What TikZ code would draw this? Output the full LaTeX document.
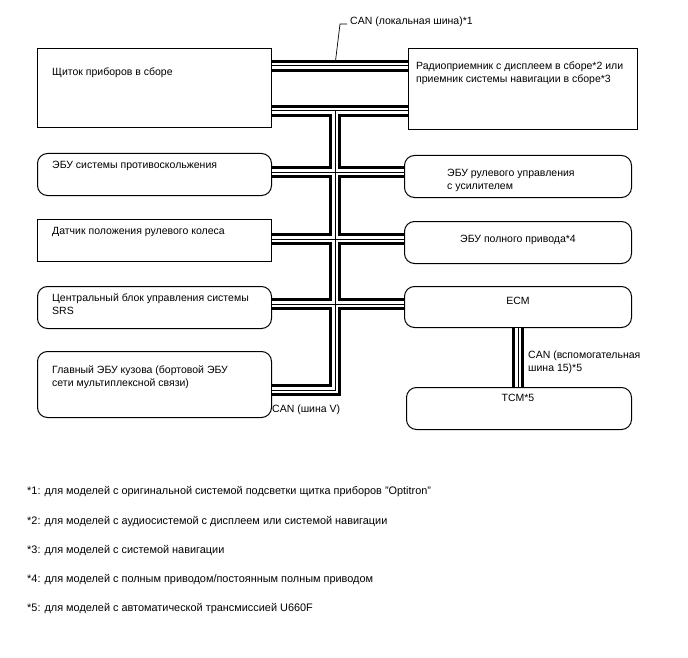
\documentclass[tikz,border=0pt]{standalone}
\usepackage{fontspec}
\setmainfont{Liberation Sans}
\begin{document}
\begin{tikzpicture}[x=1pt,y=-1pt,
  box/.style={draw,line width=1pt},
  rbox/.style={draw,line width=1pt,rounded corners=10pt},
  lbl/.style={font=\fontsize{10.5}{13}\selectfont,inner sep=0pt,align=left},
  note/.style={font=\fontsize{10.9}{12}\selectfont,inner sep=0pt,anchor=west},
  busouter/.style={line width=12pt,black,line cap=butt,line join=miter},
  businner/.style={line width=6.5pt,white,line cap=butt,line join=miter},
  buscore/.style={line width=1pt,black,line cap=butt,line join=miter}]
\useasboundingbox (0,0) rectangle (688,658);
% boxes
\node[box,minimum width=234pt,minimum height=79pt,anchor=north west] (shch) at (37,48) {};
\node[lbl,anchor=west] at (52,73) {Щиток приборов в сборе};
\node[box,minimum width=229pt,minimum height=81pt,anchor=north west] (radio) at (408,48) {};
\node[lbl,anchor=north west] at (416,62) {Радиоприемник с дисплеем в сборе*2 или\\приемник системы навигации в сборе*3};
\node[rbox,minimum width=234pt,minimum height=42pt,anchor=north west] (abs) at (37,153) {};
\node[lbl,anchor=west] at (52,166) {ЭБУ системы противоскольжения};
\node[rbox,minimum width=227pt,minimum height=42pt,anchor=north west] (eps) at (404,155) {};
\node[lbl,anchor=north west] at (447,169) {ЭБУ рулевого управления\\с усилителем};
\node[box,minimum width=234pt,minimum height=42pt,anchor=north west] (sens) at (37,219) {};
\node[lbl,anchor=west] at (52,232) {Датчик положения рулевого колеса};
\node[rbox,minimum width=227pt,minimum height=42pt,anchor=north west] (awd) at (404,221) {};
\node[lbl] at (518,240) {ЭБУ полного привода*4};
\node[rbox,minimum width=234pt,minimum height=42pt,anchor=north west] (srs) at (37,286) {};
\node[lbl,anchor=north west] at (52,294) {Центральный блок управления системы\\SRS};
\node[rbox,minimum width=227pt,minimum height=41pt,anchor=north west] (ecm) at (404,286) {};
\node[lbl] at (518,301) {ECM};
\node[rbox,minimum width=234pt,minimum height=66pt,anchor=north west] (body) at (37,351) {};
\node[lbl,anchor=north west] at (52,366) {Главный ЭБУ кузова (бортовой ЭБУ\\сети мультиплексной связи)};
\node[rbox,minimum width=225pt,minimum height=42pt,anchor=north west] (tcm) at (406,387) {};
\node[lbl] at (518,398) {TCM*5};
% junction coordinates
\coordinate (t1) at (335,66);
\coordinate (top) at (335,111);
\coordinate (j1) at (335,172);
\coordinate (j2) at (335,239);
\coordinate (j3) at (335,304);
\coordinate (bot) at (335,390);
\coordinate (et) at (518,327);
\newcommand\mybuspaths[1]{%
  \draw[#1] (shch.east |- t1) -- (radio.west |- t1);
  \draw[#1] (shch.east |- top) -- (radio.west |- top);
  \draw[#1] (top) -- (bot) -- (body.east |- bot);
  \draw[#1] (abs.east |- j1) -- (eps.west |- j1);
  \draw[#1] (sens.east |- j2) -- (awd.west |- j2);
  \draw[#1] (srs.east |- j3) -- (ecm.west |- j3);
  \draw[#1] (ecm.south -| et) -- (tcm.north -| et);
}
\mybuspaths{busouter}
\mybuspaths{businner}
\mybuspaths{buscore}
% labels
\node[lbl,anchor=west] (canloc) at (350,22) {CAN (локальная шина)*1};
\coordinate (lt) at (340,24);
\coordinate (lb) at (335.5,61);
\draw[line width=0.7pt] (canloc.west) ++(-3,2) -- (lt) -- (lb);
\node[lbl,anchor=west] (canv) at (272,410) {CAN (шина V)};
\node[lbl,anchor=north west] (cansub) at (528,351) {CAN (вспомогательная\\шина 15)*5};
% footnotes
\node[note] (n1) at (27,492) {*1: для моделей с оригинальной системой подсветки щитка приборов "Optitron"};
\node[note] (n2) at (27,522) {*2: для моделей с аудиосистемой с дисплеем или системой навигации};
\node[note] (n3) at (27,551) {*3: для моделей с системой навигации};
\node[note] (n4) at (27,580) {*4: для моделей с полным приводом/постоянным полным приводом};
\node[note] (n5) at (27,609) {*5: для моделей с автоматической трансмиссией U660F};
\end{tikzpicture}
\end{document}
